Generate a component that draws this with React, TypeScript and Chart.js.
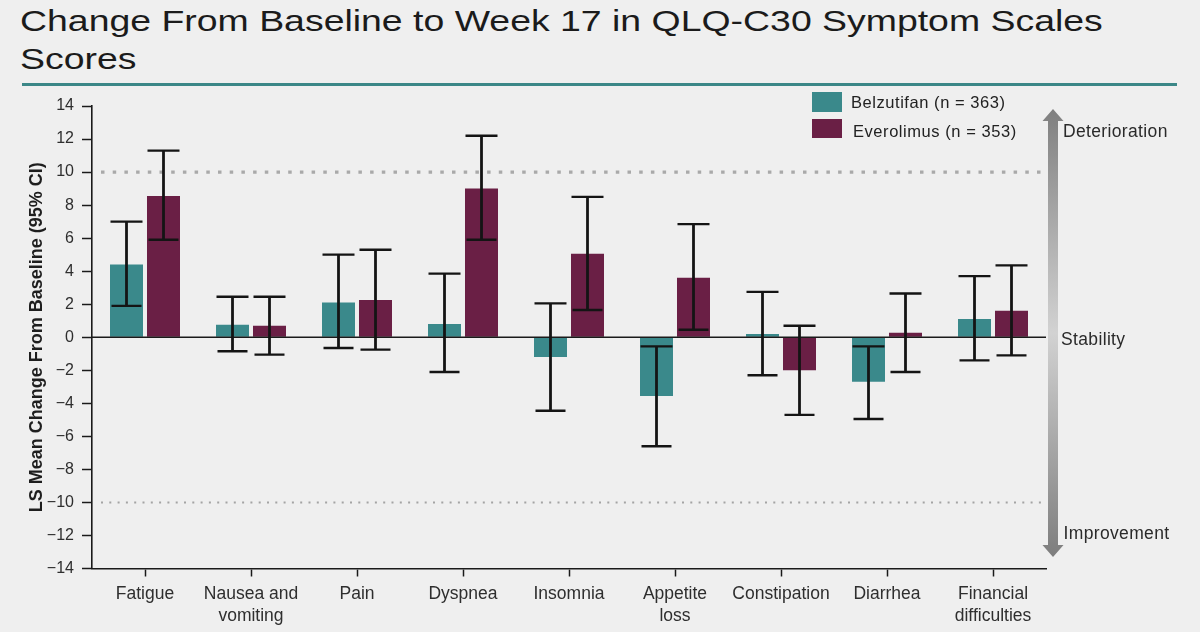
import React, { useEffect, useRef } from "react";
import { Chart, registerables } from "chart.js";

Chart.register(...registerables);

const categories: (string | string[])[] = [
  "Fatigue",
  ["Nausea and", "vomiting"],
  "Pain",
  "Dyspnea",
  "Insomnia",
  ["Appetite", "loss"],
  "Constipation",
  "Diarrhea",
  ["Financial", "difficulties"],
];

const belzutifanMean = [4.4, 0.75, 2.1, 0.8, -1.2, -3.55, 0.2, -2.7, 1.1];
const belzutifanLower = [1.9, -0.85, -0.65, -2.1, -4.45, -6.6, -2.3, -4.95, -1.4];
const belzutifanUpper = [7.0, 2.45, 5.0, 3.85, 2.05, -0.55, 2.75, -0.55, 3.7];

const everolimusMean = [8.55, 0.7, 2.25, 9.0, 5.05, 3.6, -2.0, 0.28, 1.6];
const everolimusLower = [5.9, -1.05, -0.75, 5.9, 1.65, 0.45, -4.7, -2.1, -1.1];
const everolimusUpper = [11.3, 2.45, 5.3, 12.2, 8.5, 6.85, 0.7, 2.65, 4.35];

const referenceLines = [10, -10];
const yMin = -14;
const yMax = 14;
const yStep = 2;

const seriesNames = ["Belzutifan (n = 363)", "Everolimus (n = 353)"];
const TEAL = "#3a898b";
const PURPLE = "#6a1f45";
const FONT = "'Liberation Sans', Arial, Helvetica, sans-serif";

const refLinesPlugin = {
  id: "refLines",
  beforeDatasetsDraw(chart: any) {
    const { ctx, chartArea } = chart;
    const y = chart.scales.y;
    referenceLines.forEach((v, i) => {
      const py = y.getPixelForValue(v);
      ctx.save();
      ctx.strokeStyle = i === 0 ? "#a9a9a9" : "#a4a4a4";
      ctx.lineWidth = i === 0 ? 3.2 : 2;
      ctx.setLineDash(i === 0 ? [3.5, 8.2] : [2, 6.3]);
      ctx.beginPath();
      ctx.moveTo(chartArea.left + 9, py);
      ctx.lineTo(chartArea.right - 5, py);
      ctx.stroke();
      ctx.restore();
    });
  },
  afterDatasetsDraw(chart: any) {
    const { ctx, chartArea } = chart;
    const y = chart.scales.y;
    const py = y.getPixelForValue(0);
    ctx.save();
    ctx.strokeStyle = "#1a1a1a";
    ctx.lineWidth = 1.6;
    ctx.beginPath();
    ctx.moveTo(chartArea.left, py);
    ctx.lineTo(chartArea.right, py);
    ctx.stroke();
    // error bars
    chart.data.datasets.forEach((ds: any, di: number) => {
      const meta = chart.getDatasetMeta(di);
      meta.data.forEach((bar: any, i: number) => {
        const x = bar.x;
        const lo = y.getPixelForValue(ds.errLow[i]);
        const hi = y.getPixelForValue(ds.errHigh[i]);
        ctx.strokeStyle = "#141414";
        ctx.lineWidth = 2.8;
        ctx.beginPath();
        ctx.moveTo(x, lo);
        ctx.lineTo(x, hi);
        ctx.stroke();
        ctx.lineWidth = 2.4;
        ctx.beginPath();
        ctx.moveTo(x - 16, hi);
        ctx.lineTo(x + 16, hi);
        ctx.moveTo(x - 15, lo);
        ctx.lineTo(x + 15, lo);
        ctx.stroke();
      });
    });
    ctx.restore();
  },
  afterDraw(chart: any) {
    const { ctx } = chart;
    const cx = 1053;
    const top = 109;
    const bottom = 557;
    const g = ctx.createLinearGradient(0, top, 0, bottom);
    g.addColorStop(0, "#7f7f7f");
    g.addColorStop(0.5, "#d2d2d2");
    g.addColorStop(1, "#7d7d7d");
    ctx.save();
    ctx.fillStyle = g;
    ctx.beginPath();
    ctx.moveTo(cx, top);
    ctx.lineTo(cx + 10.5, top + 12);
    ctx.lineTo(cx + 5, top + 12);
    ctx.lineTo(cx + 5, bottom - 12);
    ctx.lineTo(cx + 10.5, bottom - 12);
    ctx.lineTo(cx, bottom);
    ctx.lineTo(cx - 10.5, bottom - 12);
    ctx.lineTo(cx - 5, bottom - 12);
    ctx.lineTo(cx - 5, top + 12);
    ctx.lineTo(cx - 10.5, top + 12);
    ctx.closePath();
    ctx.fill();
    ctx.restore();
  },
};

function Label({ text, left, baseline, size, spacing, color, weight }: any) {
  return (
    <div
      style={{
        position: "absolute",
        left,
        top: baseline - 0.8465 * size,
        fontFamily: FONT,
        fontSize: size,
        lineHeight: `${size}px`,
        letterSpacing: spacing,
        color,
        fontWeight: weight || "normal",
        whiteSpace: "nowrap",
      }}
    >
      {text}
    </div>
  );
}

export default function App() {
  const canvasRef = useRef<HTMLCanvasElement>(null);

  useEffect(() => {
    const canvas = canvasRef.current;
    if (!canvas) return;
    const chart = new Chart(canvas, {
      type: "bar",
      data: {
        labels: categories as any,
        datasets: [
          {
            label: seriesNames[0],
            data: belzutifanMean,
            backgroundColor: TEAL,
            categoryPercentage: 0.698,
            barPercentage: 0.892,
            errLow: belzutifanLower,
            errHigh: belzutifanUpper,
          } as any,
          {
            label: seriesNames[1],
            data: everolimusMean,
            backgroundColor: PURPLE,
            categoryPercentage: 0.698,
            barPercentage: 0.892,
            errLow: everolimusLower,
            errHigh: everolimusUpper,
          } as any,
        ],
      },
      options: {
        responsive: false,
        animation: false,
        devicePixelRatio: 1,
        events: [],
        layout: { padding: { left: 0, right: 154, top: 106, bottom: 0 } },
        plugins: {
          legend: { display: false },
          tooltip: { enabled: false },
          title: { display: false },
        },
        scales: {
          x: {
            grid: {
              display: true,
              offset: false,
              drawOnChartArea: false,
              drawTicks: true,
              tickLength: 8,
              tickColor: "#1a1a1a",
              tickWidth: 1.5,
            },
            border: { display: true, color: "#1a1a1a", width: 1.6 },
            ticks: {
              color: "#2e2e2e",
              font: { family: FONT, size: 17.5, lineHeight: 1.26 },
              padding: 7,
              maxRotation: 0,
              autoSkip: false,
            },
            afterFit: (s: any) => {
              s.height = 63.5;
            },
          },
          y: {
            min: yMin,
            max: yMax,
            ticks: {
              stepSize: yStep,
              color: "#2e2e2e",
              font: { family: FONT, size: 16 },
              padding: 8,
              callback: (v: any) => (Number(v) < 0 ? "\u2212" + Math.abs(Number(v)) : String(v)),
            },
            grid: {
              display: true,
              drawOnChartArea: false,
              drawTicks: true,
              tickLength: 10,
              tickColor: "#1a1a1a",
              tickWidth: 1.5,
            },
            border: { display: true, color: "#1a1a1a", width: 1.6 },
            title: {
              display: true,
              text: "LS Mean Change From Baseline (95% CI)",
              color: "#1e1e1e",
              font: { family: FONT, size: 18, weight: "bold" },
              padding: { top: 26, bottom: 0 },
            },
            afterFit: (s: any) => {
              s.width = 92;
            },
          },
        },
      },
      plugins: [refLinesPlugin],
    });
    return () => chart.destroy();
  }, []);

  return (
    <div
      style={{
        position: "fixed",
        left: 0,
        top: 0,
        width: 1200,
        height: 632,
        background: "#efefef",
        overflow: "hidden",
      }}
    >
      <div
        style={{
          position: "absolute",
          left: 20,
          top: 1.5,
          fontFamily: FONT,
          fontSize: 30.3,
          lineHeight: "38.3px",
          color: "#1b1b1b",
          transform: "scaleX(1.235)",
          transformOrigin: "left top",
          whiteSpace: "nowrap",
        }}
      >
        Change From Baseline to Week 17 in QLQ-C30 Symptom Scales
        <br />
        Scores
      </div>
      <div
        style={{
          position: "absolute",
          left: 22,
          top: 83,
          width: 1155,
          height: 3,
          background: "#3b8787",
        }}
      />
      <canvas
        ref={canvasRef}
        width={1200}
        height={632}
        style={{ position: "absolute", left: 0, top: 0, width: 1200, height: 632 }}
      />
      <div style={{ position: "absolute", left: 812, top: 92, width: 30, height: 19.5, background: TEAL }} />
      <div style={{ position: "absolute", left: 812, top: 118.5, width: 30, height: 19.5, background: PURPLE }} />
      <Label text={seriesNames[0]} left={851} baseline={108.3} size={16.5} spacing="0.55px" color="#222" />
      <Label text={seriesNames[1]} left={853} baseline={136.7} size={16.5} spacing="0.55px" color="#222" />
      <Label text="Deterioration" left={1063} baseline={138.3} size={17.5} spacing="0.35px" color="#2a2a2a" />
      <Label text="Stability" left={1061} baseline={345.7} size={17.5} spacing="0.35px" color="#2a2a2a" />
      <Label text="Improvement" left={1063.5} baseline={540} size={17.5} spacing="0.35px" color="#2a2a2a" />
    </div>
  );
}
